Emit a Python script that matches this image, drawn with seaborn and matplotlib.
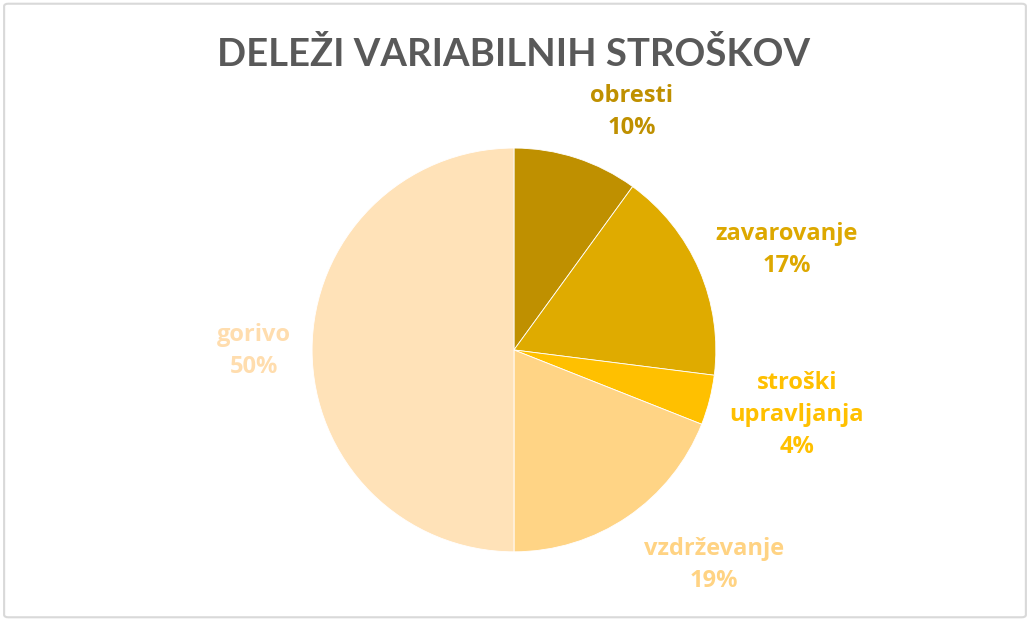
import matplotlib
matplotlib.use("Agg")
import matplotlib.pyplot as plt
import seaborn as sns
from matplotlib.patches import FancyBboxPatch

# data
categories = ["obresti", "zavarovanje", "stroški\nupravljanja", "vzdrževanje", "gorivo"]
shares = [10, 17, 4, 19, 50]
slice_colors = ["#BF9000", "#DFAB00", "#FFC000", "#FFD485", "#FFE2B8"]
label_colors = ["#BF9000", "#DDA800", "#FFC000", "#FFD383", "#FFDDAE"]
# label positions in pie-radius units
label_pos = [(0.584, 1.178), (1.351, 0.495), (1.401, -0.322), (0.990, -1.064), (-1.287, -0.005)]

sns.set_theme(style="white")
plt.rcParams["font.family"] = ["Lato", "DejaVu Sans"]

fig = plt.figure(figsize=(10.3, 6.21), dpi=100)
fig.patch.set_facecolor("white")

# chart border
border = FancyBboxPatch((0.004, 0.006), 0.992, 0.988, boxstyle="round,pad=0,rounding_size=0.004",
                        transform=fig.transFigure, facecolor="none", edgecolor="#D9D9D9",
                        linewidth=1.5, zorder=5)
fig.patches.append(border)

ax = fig.add_axes([0.303, 0.111, 0.392, 0.651])
ax.pie(shares, colors=slice_colors, startangle=90, counterclock=False,
       wedgeprops=dict(linewidth=0.6, edgecolor="white"))
ax.set_xlim(-1, 1)
ax.set_ylim(-1, 1)
ax.set_aspect("equal")
ax.axis("off")

for name, val, col, (x, y) in zip(categories, shares, label_colors, label_pos):
    ax.text(x, y, f"{name}\n{val}%", ha="center", va="center", color=col,
            fontsize=17, fontweight="bold", linespacing=1.45, clip_on=False,
            family=["Open Sans", "DejaVu Sans"])

fig.text(0.499, 0.913, "DELEŽI VARIABILNIH STROŠKOV", ha="center", va="center",
         color="#595959", fontsize=27.5, fontweight="bold")

fig.savefig("out.png", dpi=100, facecolor="white")
